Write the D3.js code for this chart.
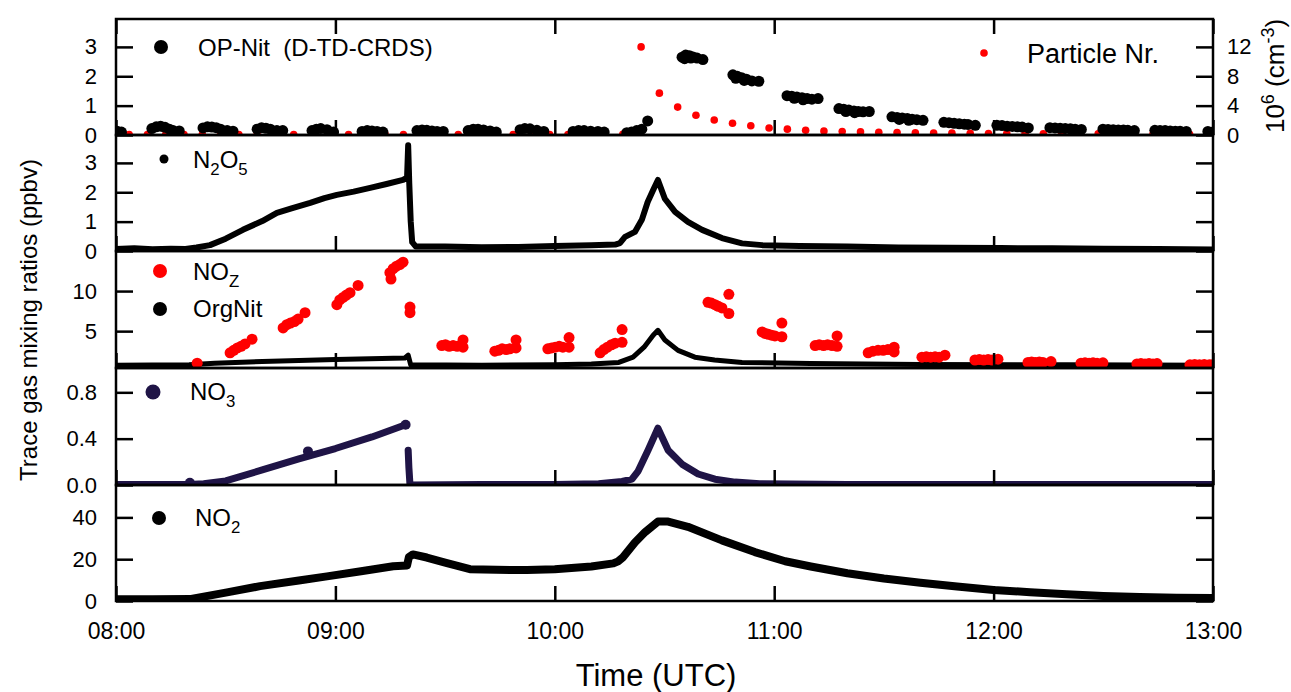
<!DOCTYPE html>
<html>
<head>
<meta charset="utf-8">
<script src="https://cdn.jsdelivr.net/npm/d3@7"></script>
<style>
body { margin: 0; background: #ffffff; }
svg text { font-family: Arial, "Liberation Sans", sans-serif; fill: #000; }
</style>
</head>
<body>
<div id="canvas"></div>
<script>
"use strict"

/* time is given in minutes after 08:00 UTC */
const timeTicks = [0, 60, 120, 180, 240, 300];
const timeLabels = ["08:00", "09:00", "10:00", "11:00", "12:00", "13:00"];

/* y tick values of the five panels, top to bottom */
const opNitTicks = [0, 1, 2, 3];
const particleTicks = [0, 4, 8, 12];
const n2o5Ticks = [0, 1, 2, 3];
const nozTicks = [5, 10];
const no3Ticks = [0, 0.4, 0.8];
const no2Ticks = [0, 20, 40];

/* OP-Nit (D-TD-CRDS), ppbv */
const opNit = [
    [0.3, 0.13], [1.5, 0.1],
    [9.8, 0.22], [11, 0.28], [12.2, 0.3], [13.4, 0.26], [14.6, 0.2], [15.6, 0.15], [17.3, 0.14],
    [23.8, 0.24], [25, 0.28], [26.2, 0.27], [27.4, 0.25], [28.6, 0.2], [30.4, 0.15], [32, 0.13],
    [38.6, 0.2], [39.8, 0.25], [41, 0.23], [42.2, 0.2], [44, 0.15], [45.6, 0.15],
    [53.6, 0.15], [54.8, 0.2], [56, 0.22], [57.7, 0.18], [59.5, 0.1],
    [67.3, 0.12], [68.7, 0.15], [70, 0.14], [71.4, 0.12], [73, 0.1],
    [82.3, 0.15], [83.7, 0.17], [85, 0.16], [86.4, 0.14], [87.8, 0.12], [89.5, 0.12],
    [96.3, 0.15], [97.7, 0.2], [99, 0.2], [100.5, 0.17], [102.3, 0.14], [104, 0.1],
    [110.5, 0.18], [111.8, 0.22], [113.2, 0.21], [115.1, 0.16], [117, 0.12],
    [125, 0.12], [126.5, 0.15], [128, 0.15], [129.8, 0.13], [131.8, 0.12], [133.5, 0.1],
    [139.7, 0.08], [141, 0.1], [142.4, 0.15], [143.8, 0.2], [145.4, 0.48],
    [154.8, 2.65], [155.8, 2.72], [156.8, 2.7], [157.8, 2.66], [158.9, 2.62], [160.5, 2.57],
    [155.5, 2.6], [157.2, 2.62],
    [168.7, 2.05], [169.9, 2.0], [171.1, 1.95], [172.4, 1.9], [173.9, 1.84], [175.8, 1.83],
    [169.5, 1.93], [171.8, 1.86],
    [183.5, 1.34], [184.8, 1.32], [186.2, 1.29], [187.6, 1.27], [189, 1.24], [190.3, 1.22], [192, 1.24],
    [185.5, 1.25], [187.9, 1.2],
    [197.7, 0.9], [199, 0.88], [200.4, 0.85], [201.8, 0.82], [203, 0.8], [204.3, 0.79], [206, 0.8],
    [199.6, 0.8], [202, 0.76],
    [212.2, 0.62], [213.6, 0.6], [215, 0.58], [216.4, 0.56], [217.7, 0.54], [219, 0.52], [220.7, 0.5],
    [214.2, 0.53], [216.8, 0.5],
    [226.4, 0.43], [227.8, 0.42], [229.2, 0.4], [230.6, 0.38], [232, 0.37], [233, 0.36], [235, 0.33],
    [240.9, 0.33], [242.3, 0.32], [243.7, 0.3], [245.1, 0.29], [246.5, 0.28], [247.8, 0.27], [249.5, 0.24],
    [255.4, 0.25], [256.8, 0.24], [258.2, 0.23], [259.6, 0.22], [261, 0.21], [262.3, 0.2], [264, 0.19],
    [269.9, 0.2], [271.3, 0.19], [272.7, 0.18], [274.1, 0.17], [275.5, 0.17], [276.7, 0.16], [278.5, 0.15],
    [284.1, 0.16], [285.5, 0.15], [286.9, 0.15], [288.3, 0.14], [289.7, 0.13], [291, 0.13], [292.7, 0.12],
    [298.6, 0.12], [300, 0.1]
];

/* particle number, 10^6 cm-3 (right axis) */
const particles = [
    [3.6, 0.05], [8.6, 0.05], [13.6, 0.05], [18.6, 0.05], [23.6, 0.05], [28.6, 0.05],
    [33.6, 0.05], [38.6, 0.05], [43.6, 0.05], [48.6, 0.05], [53.6, 0.05], [58.6, 0.05],
    [63.6, 0.05], [68.6, 0.05], [73.6, 0.05], [78.6, 0.05], [83.6, 0.05], [88.6, 0.05],
    [93.6, 0.05], [98.6, 0.05], [103.6, 0.05], [108.6, 0.05], [113.6, 0.05], [118.6, 0.05],
    [123.6, 0.05], [128.6, 0.05], [133.6, 0.05], [138.6, 0.1],
    [143.6, 12.0], [148.6, 5.7], [153.6, 3.8], [158.6, 2.7], [163.6, 2.05], [168.6, 1.6],
    [173.6, 1.25], [178.6, 0.95], [183.6, 0.8], [188.6, 0.65], [193.6, 0.55], [198.6, 0.48],
    [203.6, 0.42], [208.6, 0.37], [213.6, 0.33], [218.6, 0.3], [223.6, 0.27], [228.6, 0.25],
    [233.6, 0.23], [238.6, 0.21], [243.6, 0.2], [248.6, 0.19], [253.6, 0.18], [258.6, 0.17],
    [263.6, 0.16], [268.6, 0.15], [273.6, 0.14], [278.6, 0.13], [283.6, 0.12], [288.6, 0.11],
    [293.6, 0.1], [298.6, 0.1]
];

/* N2O5, ppbv */
const n2o5 = [
    [0, 0.07], [5, 0.09], [10, 0.06], [15, 0.08], [19, 0.07], [22, 0.12], [25.7, 0.2], [30, 0.42],
    [34.7, 0.72], [40, 1.02], [44, 1.3], [48, 1.45], [53.1, 1.64], [57, 1.8], [60.4, 1.91], [65, 2.02],
    [69.5, 2.15], [74, 2.28], [78.5, 2.42], [79.6, 2.5], [79.9, 3.6], [80.2, 2.3], [80.6, 1.0], [81, 0.3],
    [82, 0.15], [90, 0.15], [100, 0.13], [110, 0.14], [120, 0.17], [130, 0.2], [136.5, 0.22],
    [137.8, 0.27], [139.2, 0.48], [141.9, 0.65], [143.8, 1.06], [145.4, 1.67], [146.9, 2.08],
    [148.2, 2.42], [150.1, 1.78], [152.9, 1.33], [156.4, 0.99], [160.3, 0.72], [165.7, 0.44],
    [171.2, 0.26], [176.7, 0.2], [187, 0.17], [200, 0.15], [214, 0.12], [228, 0.11], [242, 0.1],
    [256, 0.09], [270, 0.08], [285, 0.07], [300, 0.05]
];

/* NOz, ppbv */
const noz = [
    [22.2, 1.0],
    [31.2, 2.3], [32.2, 2.6], [33.2, 2.9], [34.2, 3.1], [35.3, 3.4], [37.2, 4.0],
    [45.7, 5.4], [46.7, 5.8], [47.7, 6.0], [48.8, 6.2], [49.8, 6.5], [51.7, 7.3],
    [60.4, 8.3], [61.2, 8.9], [62.1, 9.2], [63, 9.5], [64, 9.8], [66.2, 10.7],
    [74.9, 12.3], [75.2, 11.5], [75.8, 12.8], [76.7, 13.1], [77.6, 13.3], [78.5, 13.6],
    [80.4, 8.0], [80.4, 7.3],
    [89.1, 3.2], [90.1, 3.3], [91.1, 3.1], [92.2, 3.2], [93.3, 3.1], [94.9, 3.9], [94.9, 3.0],
    [103.6, 2.5], [104.6, 2.6], [105.6, 2.8], [106.7, 2.7], [107.7, 2.8], [109.4, 3.9], [109.4, 2.9],
    [118.1, 2.8], [119.1, 2.9], [120.1, 3.0], [121.2, 3.1], [122.2, 3.0], [123.9, 4.2], [123.9, 3.0],
    [132.4, 2.3], [133.4, 2.7], [134.4, 3.0], [135.5, 3.3], [136.5, 3.5], [138.4, 5.2], [138.4, 3.6],
    [161.9, 8.6], [162.8, 8.5], [163.8, 8.3], [164.7, 8.1], [165.7, 7.9], [167.6, 9.6], [167.6, 7.2],
    [176.7, 4.9], [177.6, 4.7], [178.4, 4.6], [179.3, 4.5], [180.2, 4.4], [182.1, 6.0], [182.1, 4.3],
    [191.2, 3.2], [192.3, 3.3], [193.5, 3.2], [194.6, 3.3], [195.8, 3.2], [197.2, 4.4], [197.2, 3.1],
    [205.7, 2.3], [207, 2.5], [208.4, 2.6], [209.8, 2.6], [211.1, 2.7], [212.8, 3.0], [212.8, 2.4],
    [220.4, 1.75], [221.6, 1.8], [222.8, 1.75], [224, 1.8], [225.1, 1.75], [226.7, 2.0],
    [234.9, 1.4], [236.1, 1.45], [237.3, 1.4], [238.5, 1.45], [239.6, 1.4], [241.2, 1.5],
    [249.4, 1.1], [250.4, 1.15], [251.4, 1.1], [252.5, 1.15], [253.5, 1.1], [255.7, 1.2],
    [263.9, 1.0], [265, 1.05], [266.1, 1.0], [267.2, 1.05], [268.3, 1.0], [269.9, 1.05],
    [279.2, 0.9], [280.3, 0.95], [281.4, 0.9], [282.5, 0.95], [283.6, 0.9], [284.7, 0.95],
    [293.7, 0.8], [295, 0.85], [296.3, 0.8], [297.6, 0.85], [299, 0.8], [300, 0.8]
];

/* OrgNit, ppbv */
const orgNit = [
    [0, 0.75], [20, 0.8], [27, 1.0], [40, 1.2], [60, 1.45], [79, 1.65], [79.9, 2.0], [80.6, 0.8],
    [100, 0.75], [120, 0.8], [130, 0.9], [137.5, 1.1], [141.4, 1.75], [144.4, 3.0], [146.9, 4.5],
    [148.2, 5.1], [150.1, 3.9], [153.7, 2.6], [158.3, 1.75], [163.7, 1.4], [171.2, 1.1], [190, 0.95],
    [220, 0.85], [260, 0.8], [300, 0.75]
];

/* NO3, ppbv (null marks a gap in the record) */
const no3 = [
    [0, 0.005], [10, 0.005], [20, 0.005], [24, 0.01], [30, 0.035], [40, 0.13], [50, 0.225],
    [60, 0.315], [70, 0.415], [79.2, 0.52], [79.5, null], [79.9, 0.3], [80.1, 0.15], [80.4, 0.0],
    [100, 0.005], [120, 0.005], [132, 0.01], [138.4, 0.03], [141.1, 0.05], [142.8, 0.12],
    [145.5, 0.3], [148.2, 0.49], [151, 0.3], [154.8, 0.18], [159.2, 0.095], [163.8, 0.05],
    [169.3, 0.025], [176, 0.01], [200, 0.005], [300, 0.005]
];
const no3Extra = [[20.2, 0.02], [52.5, 0.29], [79.2, 0.52]];

/* NO2, ppbv */
const no2 = [
    [0, 0.8], [10, 0.8], [20.2, 0.9], [30, 4.0], [39.4, 7.1], [50, 9.8], [57.7, 11.8], [67, 14.2],
    [75.8, 16.6], [79.6, 17.0], [80.1, 21.0], [81.2, 22.3], [85, 20.8], [90, 18.4], [96.8, 15.2],
    [104, 14.9], [112.4, 14.8], [120, 15.2], [130, 16.5], [136, 18], [137.3, 19], [138.7, 21],
    [141.9, 28], [144.7, 33], [148.2, 38], [151, 38], [156.4, 35.5], [165.7, 29], [174.7, 23.4],
    [183, 19], [190, 16.5], [200, 13.3], [210, 10.8], [220, 8.7], [230, 6.9], [240, 5.3],
    [250, 4.2], [260, 3.2], [270, 2.4], [280, 1.9], [290, 1.6], [300, 1.4]
];

/* set up the drawing canvas */
let drawing = d3.select("#canvas")
    .append("svg")
    .attr("width", 1291)
    .attr("height", 692);

let left = 116;
let right = 1213;

let x = d3.scaleLinear().domain([0, 300]).range([left, right]);

/* the five stacked panels */
let panels = [
    { id: "p1", top: 19, bottom: 135, domain: [0, 3.95], ticks: opNitTicks, fmt: d3.format("d") },
    { id: "p2", top: 135, bottom: 251, domain: [0, 3.95], ticks: n2o5Ticks, fmt: d3.format("d") },
    { id: "p3", top: 251, bottom: 368, domain: [0.4, 15], ticks: nozTicks, fmt: d3.format("d") },
    { id: "p4", top: 368, bottom: 485, domain: [0, 1.01], ticks: no3Ticks, fmt: d3.format(".1f") },
    { id: "p5", top: 485, bottom: 601, domain: [0, 55.5], ticks: no2Ticks, fmt: d3.format("d") }
];

let defs = drawing.append("defs");
panels.forEach(function (p) {
    p.y = d3.scaleLinear().domain(p.domain).range([p.bottom, p.top]);
    defs.append("clipPath").attr("id", "clip-" + p.id)
        .append("rect")
        .attr("x", left)
        .attr("y", p.top)
        .attr("width", right - left)
        .attr("height", p.bottom - p.top);
    p.g = drawing.append("g").attr("clip-path", "url(#clip-" + p.id + ")");
});

function dots(g, data, yScale, r, color) {
    g.selectAll(null)
        .data(data)
        .enter()
        .append("circle")
        .attr("cx", d => x(d[0]))
        .attr("cy", d => yScale(d[1]))
        .attr("r", r)
        .attr("fill", color);
}

function trace(g, data, yScale, width, color) {
    let line = d3.line()
        .defined(d => d[1] !== null)
        .x(d => x(d[0]))
        .y(d => yScale(d[1]));
    g.append("path")
        .datum(data)
        .attr("d", line)
        .attr("fill", "none")
        .attr("stroke", color)
        .attr("stroke-width", width)
        .attr("stroke-linejoin", "round")
        .attr("stroke-linecap", "round");
}

/* panel 1: OP-Nit and particle number */
let particleY = d3.scaleLinear().domain([0, 3.95 * 4]).range([135, 19]);
dots(panels[0].g, particles, particleY, 3.8, "#ff0000");
dots(panels[0].g, opNit, panels[0].y, 5.5, "#000000");

/* panel 2: N2O5 */
trace(panels[1].g, n2o5, panels[1].y, 6, "#000000");

/* panel 3: NOz and OrgNit */
trace(panels[2].g, orgNit, panels[2].y, 5, "#000000");
dots(panels[2].g, noz, panels[2].y, 5.5, "#ff0000");

/* panel 4: NO3 */
let navy = "#1f1446";
trace(panels[3].g, no3, panels[3].y, 7, navy);
dots(panels[3].g, no3Extra, panels[3].y, 5, navy);

/* panel 5: NO2 */
trace(panels[4].g, no2, panels[4].y, 8, "#000000");

/* axes and frames */
function styleAxis(a) {
    a.select(".domain").remove();
    a.selectAll(".tick line").attr("stroke", "#000").attr("stroke-width", 2.5);
    a.selectAll(".tick text").attr("font-size", 22).attr("fill", "#000");
}

panels.forEach(function (p, i) {
    let last = i === panels.length - 1;

    let leftAxis = drawing.append("g")
        .attr("transform", "translate(" + left + ",0)")
        .call(d3.axisLeft(p.y).tickValues(p.ticks).tickSize(-17).tickPadding(19).tickFormat(p.fmt));
    styleAxis(leftAxis);

    if (i === 0) {
        let rightAxis = drawing.append("g")
            .attr("transform", "translate(" + right + ",0)")
            .call(d3.axisRight(particleY).tickValues(particleTicks).tickSize(-17).tickPadding(14));
        styleAxis(rightAxis);
        let topAxis = drawing.append("g")
            .attr("transform", "translate(0," + p.top + ")")
            .call(d3.axisTop(x).tickValues(timeTicks).tickSize(-15).tickFormat(""));
        styleAxis(topAxis);
    } else {
        let rightAxis = drawing.append("g")
            .attr("transform", "translate(" + right + ",0)")
            .call(d3.axisRight(p.y).tickValues(p.ticks).tickSize(-17).tickFormat(""));
        styleAxis(rightAxis);
    }

    let bottomAxis = drawing.append("g")
        .attr("transform", "translate(0," + p.bottom + ")")
        .call(d3.axisBottom(x).tickValues(timeTicks).tickSize(-15).tickPadding(22)
            .tickFormat(last ? (d, k) => timeLabels[k] : ""));
    styleAxis(bottomAxis);
    bottomAxis.selectAll(".tick text").attr("font-size", 23);

    drawing.append("rect")
        .attr("x", left)
        .attr("y", p.top)
        .attr("width", right - left)
        .attr("height", p.bottom - p.top)
        .attr("fill", "none")
        .attr("stroke", "#000")
        .attr("stroke-width", 2.5);
});

/* legends */
function legendText(px, py, parts, size) {
    let t = drawing.append("text")
        .attr("x", px)
        .attr("y", py)
        .attr("font-size", size);
    let shift = 0;
    parts.forEach(function (part) {
        let dy = 0;
        if (part.sub && shift === 0) { dy = 7; shift = 7; }
        if (!part.sub && shift !== 0) { dy = -shift; shift = 0; }
        t.append("tspan")
            .attr("dy", dy)
            .attr("font-size", part.sub ? size * 0.7 : size)
            .text(part.s);
    });
}

drawing.append("circle").attr("cx", 161).attr("cy", 47).attr("r", 7).attr("fill", "#000");
legendText(198, 56, [{ s: "OP-Nit\u00a0\u00a0(D-TD-CRDS)" }], 24);

drawing.append("circle").attr("cx", 984).attr("cy", 53).attr("r", 3.8).attr("fill", "#ff0000");
legendText(1027, 63, [{ s: "Particle Nr." }], 27);

drawing.append("circle").attr("cx", 164).attr("cy", 159).attr("r", 4.5).attr("fill", "#000");
legendText(193, 168, [{ s: "N" }, { s: "2", sub: true }, { s: "O" }, { s: "5", sub: true }], 24);

drawing.append("circle").attr("cx", 160).attr("cy", 271).attr("r", 7).attr("fill", "#ff0000");
legendText(193, 280, [{ s: "NO" }, { s: "Z", sub: true }], 24);

drawing.append("circle").attr("cx", 160).attr("cy", 309).attr("r", 7).attr("fill", "#000");
legendText(193, 317, [{ s: "OrgNit" }], 24);

drawing.append("circle").attr("cx", 153).attr("cy", 392).attr("r", 7.5).attr("fill", navy);
legendText(190, 400, [{ s: "NO" }, { s: "3", sub: true }], 24);

drawing.append("circle").attr("cx", 159).attr("cy", 518).attr("r", 7).attr("fill", "#000");
legendText(195, 526, [{ s: "NO" }, { s: "2", sub: true }], 24);

/* axis titles */
drawing.append("text")
    .attr("transform", "translate(37,320) rotate(-90)")
    .attr("text-anchor", "middle")
    .attr("font-size", 24)
    .text("Trace gas mixing ratios (ppbv)");

drawing.append("text")
    .attr("x", 656)
    .attr("y", 686)
    .attr("text-anchor", "middle")
    .attr("font-size", 31)
    .text("Time (UTC)");

let rightTitle = drawing.append("text")
    .attr("transform", "translate(1284,76) rotate(-90)")
    .attr("text-anchor", "middle")
    .attr("font-size", 26);
rightTitle.append("tspan").text("10");
rightTitle.append("tspan").attr("dy", -10).attr("font-size", 18).text("6");
rightTitle.append("tspan").attr("dy", 10).text(" (cm");
rightTitle.append("tspan").attr("dy", -10).attr("font-size", 18).text("-3");
rightTitle.append("tspan").attr("dy", 10).text(")");
</script>
</body>
</html>
